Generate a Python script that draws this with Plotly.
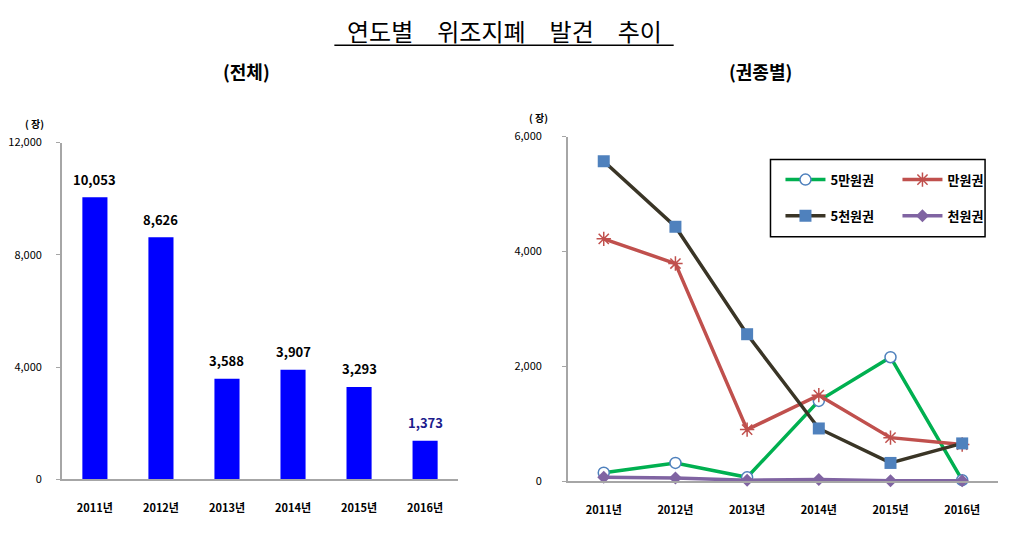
import plotly.graph_objects as go

years = ["2011년", "2012년", "2013년", "2014년", "2015년", "2016년"]
total = [10053, 8626, 3588, 3907, 3293, 1373]
total_text = ["10,053", "8,626", "3,588", "3,907", "3,293", "1,373"]

won50k = [150, 320, 70, 1400, 2160, 20]
won10k = [4220, 3790, 900, 1500, 760, 640]
won5k = [5570, 4430, 2560, 920, 320, 660]
won1k = [70, 60, 20, 30, 10, 10]

FONT = "Noto Sans CJK KR"
W, H = 1008, 520  # page body has an 8px margin


def px(x):
    return (x - 8) / W


def py(y):
    # screenshot comes out slightly squeezed vertically, undo it
    y = (y - 10) / 0.967
    return 1 - (y - 8) / H


fig = go.Figure()

# left: total bars
fig.add_trace(go.Bar(
    x=years, y=total, marker=dict(color="#0000ff", line=dict(width=0)),
    width=0.38, xaxis="x", yaxis="y", showlegend=False, hoverinfo="x+y"))

# right: by denomination
series = [
    ("5만원권", won50k, "#00b050", dict(symbol="circle", size=11, color="white",
                                        line=dict(color="#4f81bd", width=1.5)), "legend"),
    ("만원권", won10k, "#c0504d", dict(symbol="asterisk-open", size=12,
                                      line=dict(color="#c0504d", width=1.5)), "legend"),
    ("5천원권", won5k, "#3a3526", dict(symbol="square", size=12, color="#4f81bd",
                                      line=dict(color="#4f81bd", width=0)), "legend2"),
    ("천원권", won1k, "#8064a2", dict(symbol="diamond", size=10, color="#8064a2"), "legend2"),
]
for name, vals, col, mk, lg in series:
    fig.add_trace(go.Scatter(
        x=years, y=vals, name="<b>" + name + "</b>", mode="lines+markers",
        line=dict(color=col, width=3.5), marker=mk,
        xaxis="x2", yaxis="y2", legend=lg, cliponaxis=False))

axis_font = dict(family=FONT, size=11, color="black")
common_x = dict(showline=True, linecolor="#a6a6a6", linewidth=1.5, showgrid=False,
                ticks="", tickfont=axis_font, range=[-0.5, 5.5], fixedrange=True,
                ticklabelstandoff=18, tickprefix="<b>", ticksuffix="</b>")
common_y = dict(showline=True, linecolor="#a6a6a6", linewidth=1.5, showgrid=False,
                zeroline=False, ticks="outside", ticklen=4, tickcolor="#a6a6a6",
                tickfont=axis_font, tickformat=",d", tickprefix="<b>", ticksuffix="</b>",
                fixedrange=True)

annotations = [
    dict(text="연도별\u3000위조지폐\u3000발견\u3000추이", x=px(503), y=py(31),
         font=dict(family=FONT, size=24, color="black")),
    dict(text="<b>(전체)</b>", x=px(245), y=py(72), font=dict(family=FONT, size=18, color="black")),
    dict(text="<b>(권종별)</b>", x=px(760), y=py(72), font=dict(family=FONT, size=18, color="black")),
    dict(text="<b>( 장)</b>", x=px(33), y=py(124), font=dict(family=FONT, size=10, color="black")),
    dict(text="<b>( 장)</b>", x=px(538), y=py(118), font=dict(family=FONT, size=10, color="black")),
]
for a in annotations:
    a.update(xref="paper", yref="paper", showarrow=False, xanchor="center", yanchor="middle")

# value labels over the bars
for i, (yr, v, t) in enumerate(zip(years, total, total_text)):
    annotations.append(dict(
        x=yr, y=v, xref="x", yref="y", text="<b>" + t + "</b>", showarrow=False,
        xanchor="center", yanchor="middle", yshift=18,
        font=dict(family=FONT, size=13, color="#1c1c8c" if i == 5 else "black")))

fig.update_layout(
    width=W, height=H,
    margin=dict(l=0, r=0, t=0, b=0),
    paper_bgcolor="white", plot_bgcolor="white",
    font=dict(family=FONT, color="black"),
    xaxis=dict(domain=[px(60), px(457)], anchor="y", **common_x),
    yaxis=dict(domain=[py(479), py(143)], anchor="x", range=[0, 12000],
               tickvals=[0, 4000, 8000, 12000], ticklabelstandoff=12, **common_y),
    xaxis2=dict(domain=[px(567), px(998)], anchor="y2", **common_x),
    yaxis2=dict(domain=[py(481), py(137)], anchor="x2", range=[0, 6000],
                tickvals=[0, 2000, 4000, 6000], ticklabelstandoff=18, **common_y),
    legend=dict(orientation="h", x=px(780), y=py(180), xanchor="left", yanchor="middle",
                font=dict(family=FONT, size=13, color="black"),
                entrywidth=62, bgcolor="rgba(0,0,0,0)", itemwidth=40),
    legend2=dict(orientation="h", x=px(780), y=py(216), xanchor="left", yanchor="middle",
                 font=dict(family=FONT, size=13, color="black"),
                 entrywidth=62, bgcolor="rgba(0,0,0,0)", itemwidth=40),
    shapes=[
        dict(type="rect", xref="paper", yref="paper", x0=px(770), x1=px(985),
             y0=py(237), y1=py(160), line=dict(color="black", width=1.5)),
        dict(type="line", xref="paper", yref="paper", x0=px(333), x1=px(673),
             y0=py(46), y1=py(46), line=dict(color="black", width=1.5)),
    ],
    annotations=annotations,
)

fig.write_html("out.html")
